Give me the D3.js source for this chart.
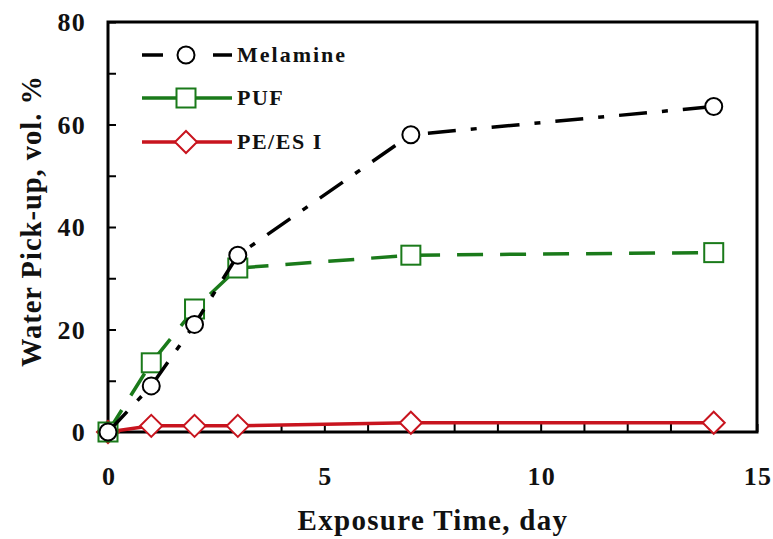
<!DOCTYPE html>
<html>
<head>
<meta charset="utf-8">
<script src="https://cdn.jsdelivr.net/npm/d3@7"></script>
<style>
  body { margin: 0; background: #fff; }
  svg text { font-family: "Liberation Serif", "Times New Roman", serif; font-weight: bold; fill: #111; }
</style>
</head>
<body>
<svg id="chart" width="773" height="539"></svg>
<script>
// chart data
const days = [0, 1, 2, 3, 7, 14];
const melamine = [0, 9, 21, 34.5, 58, 63.5];
const puf = [0, 13.5, 24, 32, 34.5, 35];
const pees = [0, 1.2, 1.2, 1.2, 1.8, 1.8];
const xTicks = [0, 5, 10, 15];
const yTicks = [0, 20, 40, 60, 80];

const plot = { left: 108, right: 757, top: 22, bottom: 432 };

const svg = d3.select('#chart');

const x = d3.scaleLinear().domain([0, 15]).range([plot.left, plot.right]);
const y = d3.scaleLinear().domain([0, 80]).range([plot.bottom, plot.top]);

const series = [
    { name: 'Melamine', values: melamine, color: '#000000', dash: '28,15,6,15', marker: 'circle' },
    { name: 'PUF', values: puf, color: '#1a7a1a', dash: '26,17', marker: 'square' },
    { name: 'PE/ES I', values: pees, color: '#c8141e', dash: null, marker: 'diamond' }
];

// frame
svg.append('rect')
    .attr('x', plot.left).attr('y', plot.top)
    .attr('width', plot.right - plot.left).attr('height', plot.bottom - plot.top)
    .attr('fill', 'none').attr('stroke', '#000').attr('stroke-width', 3);

// axes, ticks pointing inward
const xAxis = d3.axisBottom(x).tickValues(d3.range(0, 16, 1)).tickSize(-8).tickFormat('');
svg.append('g').attr('transform', `translate(0,${plot.bottom})`).call(xAxis)
    .call(g => g.select('.domain').remove())
    .call(g => g.selectAll('line').attr('stroke-width', 2));

const yAxis = d3.axisLeft(y).tickValues(d3.range(0, 81, 10)).tickSize(-8).tickFormat('');
svg.append('g').attr('transform', `translate(${plot.left},0)`).call(yAxis)
    .call(g => g.select('.domain').remove())
    .call(g => g.selectAll('line').attr('stroke-width', 2));

// tick labels
svg.append('g').selectAll('text').data(xTicks).enter().append('text')
    .attr('x', d => x(d) + 1).attr('y', 485)
    .attr('text-anchor', 'middle').attr('font-size', 26).attr('letter-spacing', 1.2)
    .text(d => d);

svg.append('g').selectAll('text').data(yTicks).enter().append('text')
    .attr('x', 86).attr('y', d => y(d) + 9)
    .attr('text-anchor', 'end').attr('font-size', 26).attr('letter-spacing', 1.2)
    .text(d => d);

// axis titles
svg.append('text').attr('x', 433).attr('y', 530)
    .attr('text-anchor', 'middle').attr('font-size', 29).attr('letter-spacing', 1.3)
    .text('Exposure Time, day');

svg.append('text').attr('transform', `translate(41,221) rotate(-90)`)
    .attr('text-anchor', 'middle').attr('font-size', 28.5).attr('letter-spacing', 1)
    .text('Water Pick-up, vol. %');

function drawMarker(g, type, cx, cy, color) {
    if (type === 'circle') {
        g.append('circle').attr('cx', cx).attr('cy', cy).attr('r', 8.5)
            .attr('fill', '#fff').attr('stroke', color).attr('stroke-width', 2);
    } else if (type === 'square') {
        g.append('rect').attr('x', cx - 9.5).attr('y', cy - 9.5).attr('width', 19).attr('height', 19)
            .attr('fill', '#fff').attr('stroke', color).attr('stroke-width', 2);
    } else {
        const s = 11;
        g.append('path').attr('d', `M${cx},${cy - s}L${cx + s},${cy}L${cx},${cy + s}L${cx - s},${cy}Z`)
            .attr('fill', '#fff').attr('stroke', color).attr('stroke-width', 2);
    }
}

const line = d3.line().x((d, i) => x(days[i])).y(d => y(d));

// reverse order so melamine sits on top
series.slice().reverse().forEach(s => {
    const g = svg.append('g');
    g.append('path').datum(s.values)
        .attr('d', line)
        .attr('fill', 'none').attr('stroke', s.color).attr('stroke-width', 3.5)
        .attr('stroke-dasharray', s.dash);
    s.values.forEach((v, i) => drawMarker(g, s.marker, x(days[i]), y(v), s.color));
});

// legend
const legendY = [55, 98, 142];
series.forEach((s, i) => {
    const g = svg.append('g');
    const ly = legendY[i];
    g.append('line').attr('x1', 142).attr('x2', 232).attr('y1', ly).attr('y2', ly)
        .attr('stroke', s.color).attr('stroke-width', 3.5)
        .attr('stroke-dasharray', s.marker === 'circle' ? '21,50,19' : null);
    drawMarker(g, s.marker, 186, ly, s.color);
    g.append('text').attr('x', 237).attr('y', ly + 7)
        .attr('font-size', 22).attr('letter-spacing', s.marker === 'circle' ? 2 : 1.5)
        .text(s.name);
});
</script>
</body>
</html>
